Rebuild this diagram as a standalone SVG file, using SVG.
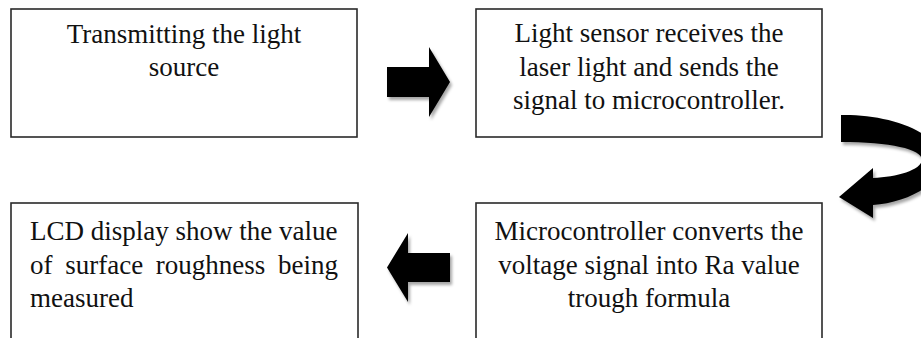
<svg xmlns="http://www.w3.org/2000/svg" width="921" height="338" viewBox="0 0 921 338">
  <style>
    .box { fill: #ffffff; stroke: #2a2a2a; stroke-width: 1.6; }
    .txt { font-size: 27px; fill: #111111; }
    .c { text-anchor: middle; }
    .arrow { fill: #000000; filter: url(#shadow); }
  </style>
  <defs>
    <filter id="shadow" x="-20%" y="-20%" width="150%" height="150%">
      <feDropShadow dx="2" dy="3" stdDeviation="1.5" flood-color="#000000" flood-opacity="0.35"/>
    </filter>
  </defs>
  <rect width="921" height="338" fill="#ffffff"/>

  <g font-family="'Liberation Serif', serif">
  <g id="node-transmit">
    <rect class="box" x="11" y="9" width="346" height="128"/>
    <text class="txt c" x="184" y="43">Transmitting the light</text>
    <text class="txt c" x="184" y="76">source</text>
  </g>

  <g id="node-sensor">
    <rect class="box" x="476" y="9" width="346" height="128"/>
    <text class="txt c" x="649" y="42">Light sensor receives the</text>
    <text class="txt c" x="649" y="75.5">laser light and sends the</text>
    <text class="txt c" x="649" y="109">signal to microcontroller.</text>
  </g>

  <g id="node-micro">
    <rect class="box" x="476" y="203" width="346" height="145"/>
    <text class="txt c" x="649" y="240">Microcontroller converts the</text>
    <text class="txt c" x="649" y="273.5">voltage signal into Ra value</text>
    <text class="txt c" x="649" y="307">trough formula</text>
  </g>

  <g id="node-lcd">
    <rect class="box" x="11" y="203" width="347" height="145"/>
    <text class="txt" x="30" y="240">LCD display show the value</text>
    <text class="txt" y="273.5"><tspan x="30">of</tspan><tspan x="65.2">surface</tspan><tspan x="155.8">roughness</tspan><tspan x="278">being</tspan></text>
    <text class="txt" x="30" y="307">measured</text>
  </g>
  </g>

  <g id="connectors">
    <polygon class="arrow" points="387,67 429,67 429,47 450,82 429,117 429,97 387,97"/>
    <path class="arrow" d="M841,115 C882,114 936,128 940,158 C943,186 905,203 873,205 L873,218 L839,197 L873,168 L873,178 C897,177 921,170 922,160 C922,149 890,142 841,142 Z"/>
    <polygon class="arrow" points="450,253 408,253 408,233 387,267.5 408,302 408,282 450,282"/>
  </g>
</svg>
